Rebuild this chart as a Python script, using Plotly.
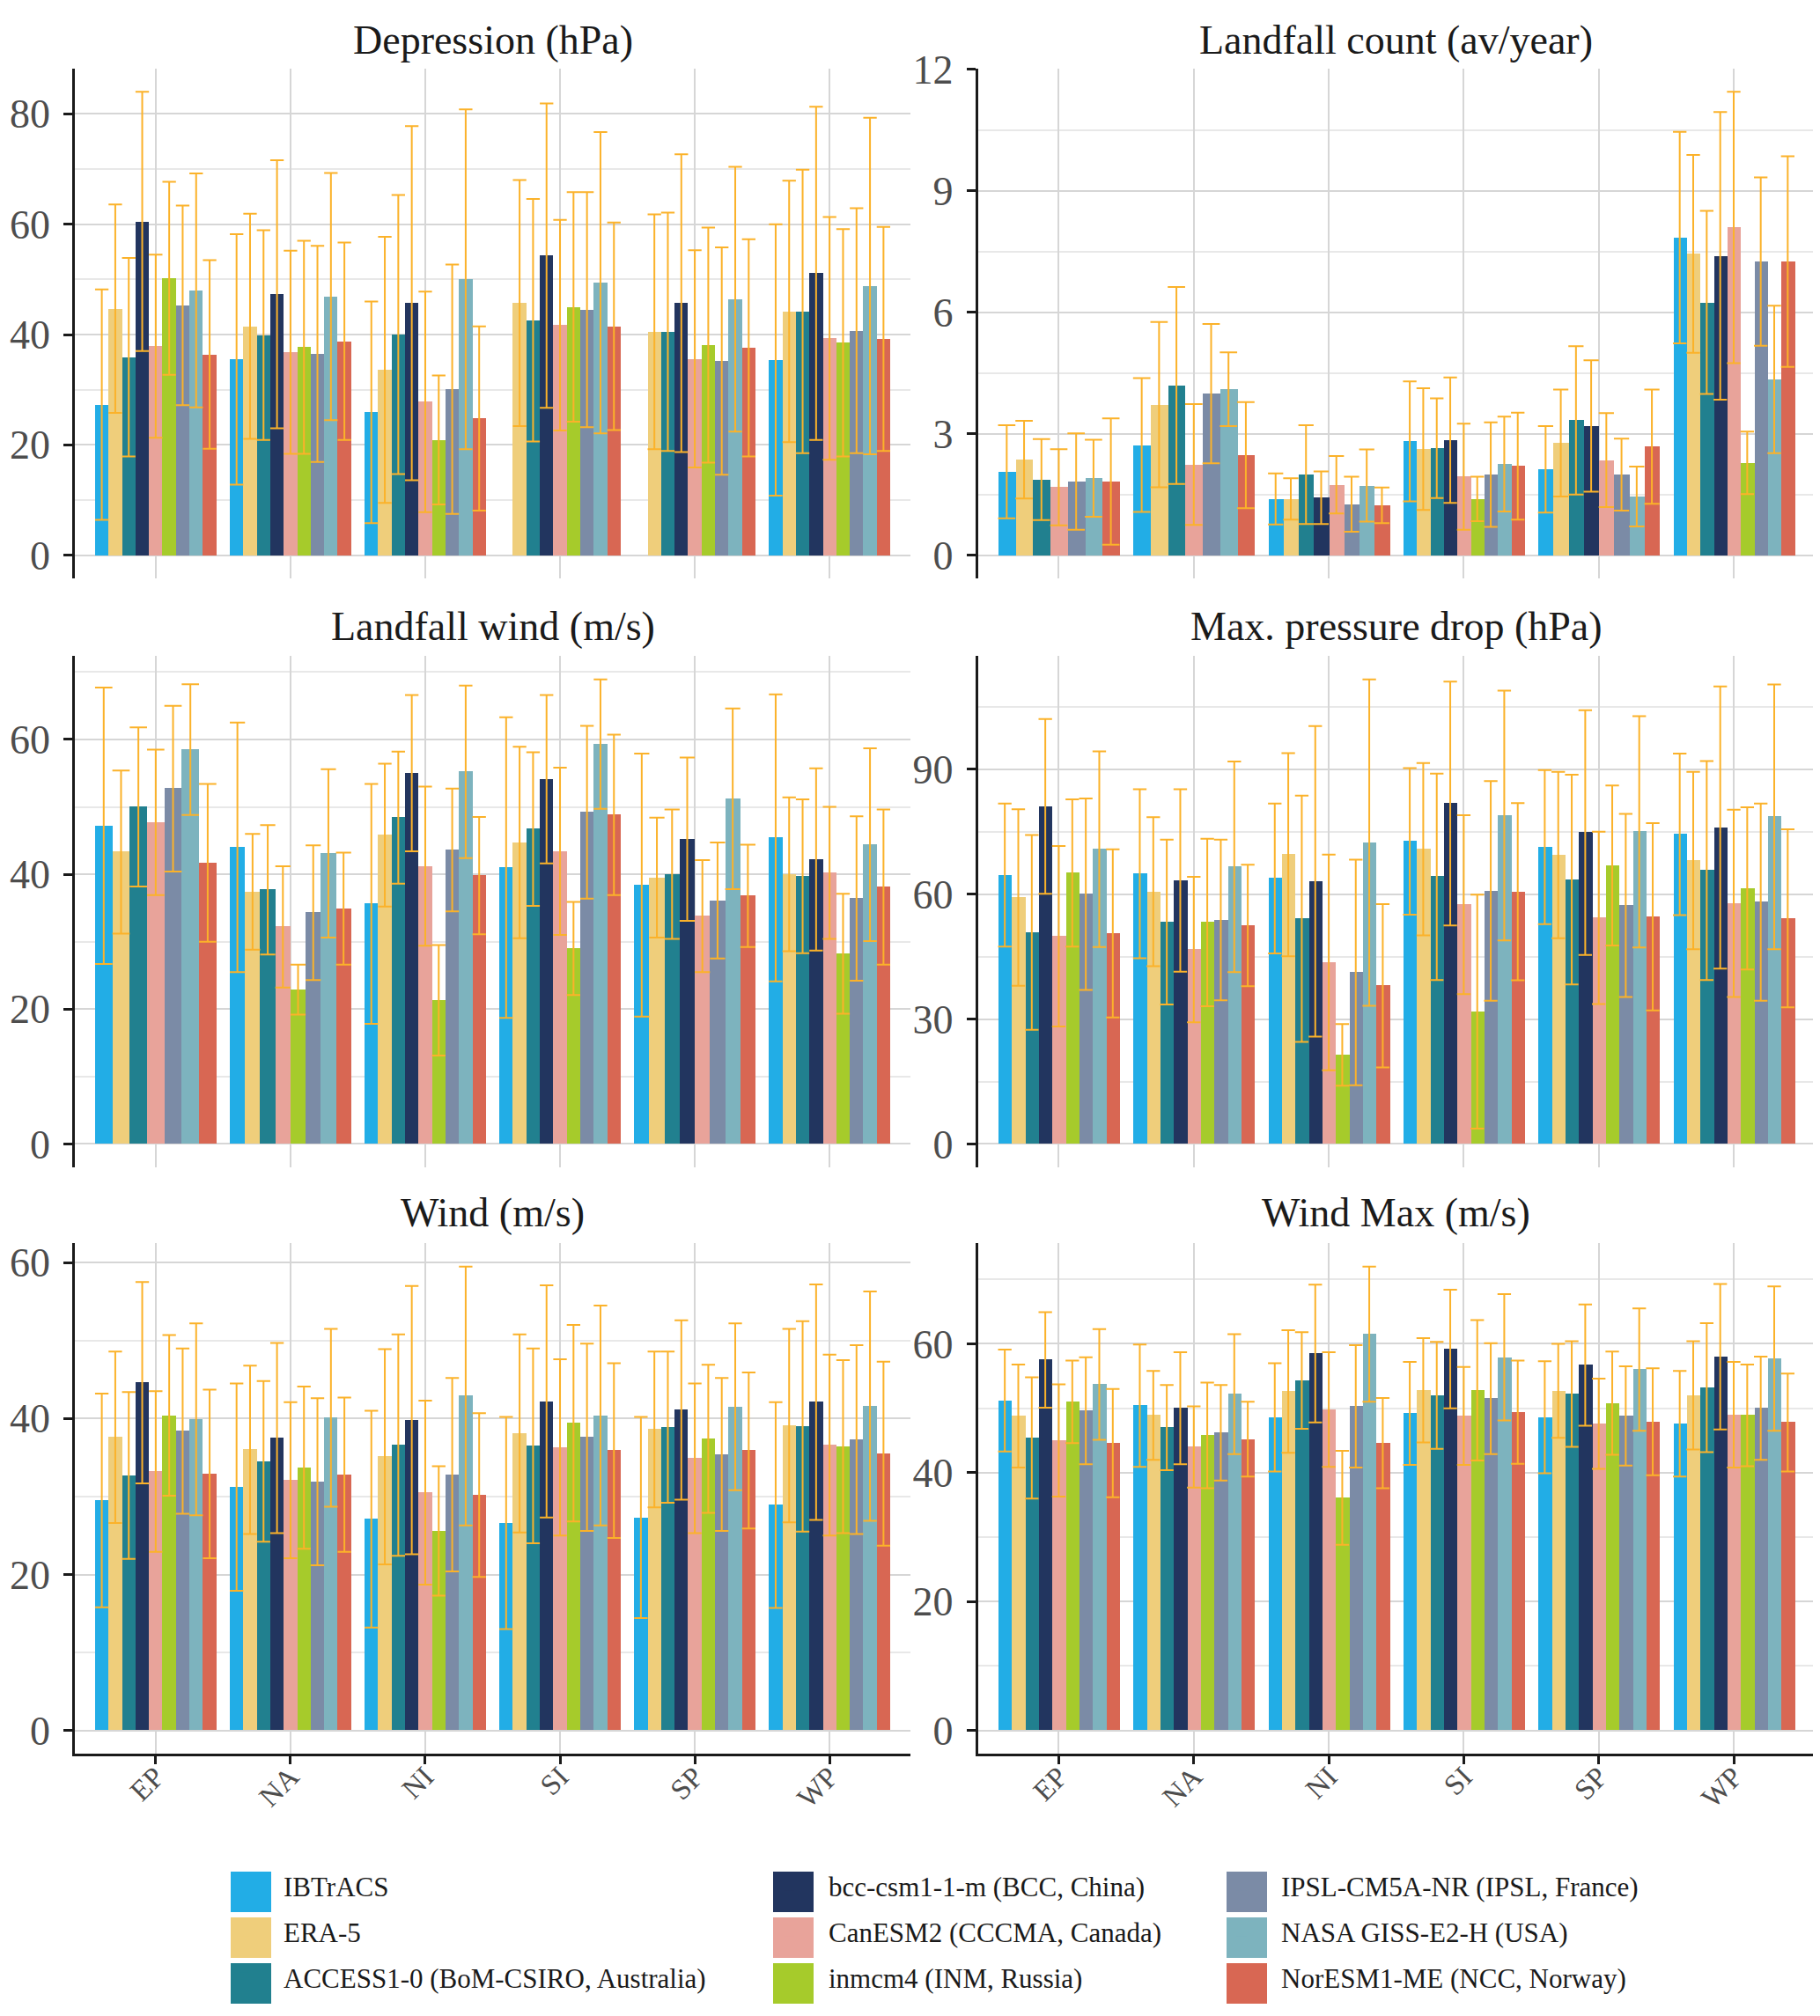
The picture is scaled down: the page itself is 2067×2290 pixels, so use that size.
import math
import plotly.graph_objects as go

# ---------------- data ----------------
regions = ["EP", "NA", "NI", "SI", "SP", "WP"]
series = [
    "IBTrACS",
    "ERA-5",
    "ACCESS1-0 (BoM-CSIRO, Australia)",
    "bcc-csm1-1-m (BCC, China)",
    "CanESM2 (CCCMA, Canada)",
    "inmcm4 (INM, Russia)",
    "IPSL-CM5A-NR (IPSL, France)",
    "NASA GISS-E2-H (USA)",
    "NorESM1-ME (NCC, Norway)",
]
colors = ["#22ADE6", "#EFCE7B", "#21808F", "#22355F", "#E8A39A",
          "#A6CB2B", "#7B8BA6", "#7DB3BE", "#D86753"]
titles = ["Depression (hPa)", "Landfall count (av/year)", "Landfall wind (m/s)",
          "Max. pressure drop (hPa)", "Wind (m/s)", "Wind Max (m/s)"]
major_step = [20, 3, 20, 30, 20, 20]

NA = float("nan")   # row exists but value missing: keeps its dodge slot
# None = row absent: the remaining bars of that region share the group width

# rows = series (order above), columns = regions
dep_mean = [
    [27.3, 35.5, 25.9, NA, NA, 35.4],
    [44.7, 41.5, 33.6, 45.7, 40.5, 44.2],
    [35.9, 39.9, 40.0, 42.6, 40.5, 44.2],
    [60.5, 47.3, 45.7, 54.3, 45.7, 51.1],
    [37.9, 36.8, 27.8, 41.7, 35.6, 39.3],
    [50.2, 37.7, 20.9, 45.0, 38.1, 38.5],
    [45.3, 36.5, 30.1, 44.5, 35.2, 40.7],
    [48.0, 46.9, 50.0, 49.4, 46.4, 48.8],
    [36.4, 38.8, 24.8, 41.5, 37.6, 39.2],
]
dep_sd = [
    [20.9, 22.7, 20.1, NA, NA, 24.6],
    [18.9, 20.4, 24.1, 22.3, 21.3, 23.7],
    [18.0, 19.0, 25.3, 22.0, 21.6, 25.7],
    [23.5, 24.3, 32.1, 27.6, 27.0, 30.2],
    [16.6, 18.4, 20.0, 19.1, 19.7, 22.0],
    [17.5, 19.3, 11.7, 20.8, 21.3, 20.6],
    [18.1, 19.6, 22.6, 21.3, 20.6, 22.2],
    [21.2, 22.4, 30.8, 27.3, 24.0, 30.5],
    [17.1, 17.9, 16.7, 18.8, 19.7, 20.3],
]

lfc_mean = [
    [2.06, 2.72, 1.39, 2.81, 2.12, 7.84],
    [2.36, 3.72, 1.39, 2.62, 2.77, 7.44],
    [1.87, 4.19, 1.99, 2.64, 3.33, 6.24],
    [None, None, 1.42, 2.84, 3.19, 7.39],
    [1.68, 2.24, 1.74, 1.94, 2.35, 8.09],
    [None, None, None, 1.39, None, 2.28],
    [1.82, 3.99, 1.26, 1.99, 1.99, 7.25],
    [1.90, 4.10, 1.72, 2.25, 1.45, 4.34],
    [1.82, 2.47, 1.23, 2.20, 2.68, 7.25],
]
lfc_sd = [
    [1.15, 1.65, 0.63, 1.48, 1.07, 2.61],
    [0.96, 2.04, 0.51, 1.50, 1.32, 2.44],
    [1.00, 2.43, 1.22, 1.23, 1.83, 2.26],
    [None, None, 0.65, 1.55, 1.62, 3.55],
    [0.94, 1.49, 0.71, 1.31, 1.16, 3.35],
    [None, None, None, 0.55, None, 0.77],
    [1.19, 1.72, 0.68, 1.29, 0.89, 2.08],
    [0.95, 0.91, 0.89, 1.17, 0.74, 1.82],
    [1.56, 1.31, 0.44, 1.32, 1.41, 2.60],
]

lfw_mean = [
    [47.2, 44.0, 35.6, 41.0, 38.4, 45.4],
    [43.3, 37.4, 45.8, 44.7, 39.5, 40.0],
    [50.0, 37.7, 48.4, 46.7, 40.0, 39.7],
    [None, None, 55.0, 54.1, 45.2, 42.2],
    [47.7, 32.2, 41.2, 43.4, 33.8, 40.2],
    [None, 22.9, 21.3, 29.0, None, 28.2],
    [52.7, 34.3, 43.6, 49.2, 36.1, 36.4],
    [58.5, 43.1, 55.2, 59.3, 51.2, 44.4],
    [41.7, 34.9, 39.8, 48.8, 36.8, 38.1],
]
lfw_sd = [
    [20.5, 18.5, 17.8, 22.3, 19.5, 21.3],
    [12.1, 8.6, 10.6, 14.2, 8.9, 11.4],
    [11.8, 9.6, 9.8, 11.4, 9.6, 11.4],
    [None, None, 11.6, 12.5, 12.1, 13.5],
    [10.8, 9.0, 11.8, 12.4, 8.3, 9.8],
    [None, 3.7, 8.2, 6.9, None, 8.9],
    [12.3, 10.0, 9.1, 12.8, 8.6, 12.2],
    [9.7, 12.5, 12.8, 9.6, 13.4, 14.3],
    [11.7, 8.3, 8.7, 11.9, 7.6, 11.5],
]

mpd_mean = [
    [64.6, 64.9, 63.8, 72.7, 71.3, 74.4],
    [59.2, 60.6, 69.5, 70.8, 69.4, 68.1],
    [50.8, 53.3, 54.1, 64.2, 63.5, 65.7],
    [81.1, 63.3, 63.1, 81.8, 74.8, 76.0],
    [49.9, 46.7, 43.6, 57.5, 54.3, 57.8],
    [65.1, 53.2, 21.4, 31.8, 66.9, 61.4],
    [60.0, 53.8, 41.2, 60.8, 57.3, 58.1],
    [70.8, 66.6, 72.4, 78.9, 75.0, 78.6],
    [50.6, 52.5, 38.0, 60.6, 54.6, 54.2],
]
mpd_sd = [
    [17.2, 20.3, 18.0, 17.6, 18.5, 19.4],
    [21.2, 17.9, 24.4, 20.7, 20.0, 21.3],
    [23.4, 19.8, 29.6, 24.8, 25.2, 26.3],
    [21.0, 21.9, 37.3, 29.3, 29.4, 33.9],
    [21.7, 17.5, 25.9, 21.5, 20.7, 22.5],
    [17.7, 20.1, 7.4, 28.1, 19.2, 19.5],
    [23.0, 19.3, 27.1, 26.4, 22.0, 23.7],
    [23.5, 25.3, 39.2, 30.0, 27.8, 31.8],
    [20.2, 14.6, 19.6, 21.3, 22.5, 21.4],
]

wind_mean = [
    [29.5, 31.2, 27.1, 26.6, 27.3, 28.9],
    [37.6, 36.0, 35.1, 38.1, 38.6, 39.1],
    [32.7, 34.5, 36.6, 36.5, 38.9, 39.0],
    [44.6, 37.5, 39.8, 42.2, 41.1, 42.1],
    [33.2, 32.1, 30.5, 36.3, 34.9, 36.6],
    [40.4, 33.7, 25.6, 39.4, 37.4, 36.4],
    [38.4, 31.9, 32.8, 37.6, 35.4, 37.3],
    [39.9, 40.1, 42.9, 40.4, 41.5, 41.6],
    [32.9, 32.8, 30.2, 35.9, 35.9, 35.5],
]
wind_sd = [
    [13.7, 13.3, 13.9, 13.6, 12.9, 13.2],
    [11.0, 10.8, 13.8, 12.7, 10.0, 12.4],
    [10.7, 10.3, 14.2, 12.5, 9.7, 13.5],
    [12.9, 12.2, 17.2, 14.9, 11.5, 15.1],
    [10.3, 10.0, 11.8, 11.3, 9.6, 11.6],
    [10.3, 10.4, 8.3, 12.6, 9.5, 11.1],
    [10.6, 10.7, 12.4, 12.0, 9.8, 12.1],
    [12.3, 11.4, 16.6, 14.1, 10.7, 14.7],
    [10.8, 9.9, 10.5, 11.2, 10.0, 11.8],
]

wmax_mean = [
    [51.2, 50.4, 48.6, 49.2, 48.6, 47.6],
    [48.8, 48.9, 52.6, 52.8, 52.7, 52.0],
    [45.4, 47.0, 54.3, 52.0, 52.2, 53.2],
    [57.5, 50.0, 58.5, 59.2, 56.7, 58.0],
    [45.0, 44.0, 49.8, 48.8, 47.6, 49.0],
    [51.0, 45.8, 36.1, 52.8, 50.8, 48.9],
    [49.6, 46.2, 50.3, 51.5, 48.8, 50.0],
    [53.7, 52.2, 61.5, 57.9, 56.0, 57.7],
    [44.6, 45.2, 44.6, 49.4, 47.9, 47.8],
]
wmax_sd = [
    [7.9, 9.5, 8.4, 8.0, 8.7, 8.2],
    [8.0, 6.9, 9.5, 8.1, 7.3, 8.4],
    [9.4, 6.6, 7.5, 8.3, 8.2, 10.0],
    [7.4, 8.7, 10.7, 9.2, 9.4, 11.3],
    [8.7, 6.3, 8.9, 7.6, 7.0, 8.2],
    [6.4, 8.2, 7.3, 10.9, 8.0, 7.9],
    [8.3, 7.4, 9.5, 8.6, 7.7, 8.0],
    [8.6, 9.3, 10.5, 9.8, 9.5, 11.2],
    [8.4, 5.8, 7.0, 8.0, 8.3, 7.6],
]

panels = [(dep_mean, dep_sd), (lfc_mean, lfc_sd), (lfw_mean, lfw_sd),
          (mpd_mean, mpd_sd), (wind_mean, wind_sd), (wmax_mean, wmax_sd)]

# ---------------- style / geometry ----------------
W, H = 2067, 2290
FONT = "Liberation Serif"
col_px = [(77, 1026), (1102.5, 2053)]
row_px = [(70, 649), (737.4, 1317.8), (1404.3, 1984)]
X_RANGE = [-0.6, 5.6]
GROUP_W = 0.9
ERR_COLOR = "#FBB22A"

# legend: 3 columns x 3 rows, filled column by column
LEG_TEXT_X = [322, 941, 1455]     # left edge of the label text (px)
LEG_SWATCH_X = [254, 870, 1385]   # left edge of the colour key (px)
LEG_ROW_Y = [2141, 2193, 2245]    # centre of each legend row (px)
SWATCH = 46
LEG_ITEMW = 80
legend_names = ["legend", "legend2", "legend3"]


def is_nan(v):
    return isinstance(v, float) and math.isnan(v)


def dodge(mean, j):
    present = [i for i in range(len(mean)) if mean[i][j] is not None]
    n = len(present)
    w = GROUP_W / n
    return {i: (j - GROUP_W / 2 + (k + 0.5) * w, w) for k, i in enumerate(present)}


fig = go.Figure()
layout = {}

for p, (mean, sd) in enumerate(panels):
    r, c = divmod(p, 2)
    ax = "" if p == 0 else str(p + 1)
    xref, yref = "x" + ax, "y" + ax
    x0, x1 = col_px[c]
    top, bot = row_px[r]
    px_per_unit = (x1 - x0) / (X_RANGE[1] - X_RANGE[0])

    pos = [dodge(mean, j) for j in range(len(regions))]

    err_groups = []
    for i, name in enumerate(series):
        xs, ys, ws = [], [], []
        byw = {}
        for j in range(len(regions)):
            v = mean[i][j]
            if v is None or is_nan(v):
                continue
            cx, w = pos[j][i]
            xs.append(cx); ys.append(v); ws.append(w)
            byw.setdefault(round(w, 6), []).append((cx, v, sd[i][j]))
        fig.add_trace(go.Bar(
            x=xs, y=ys, width=ws, name=name,
            marker=dict(color=colors[i], line=dict(width=0)),
            xaxis=xref, yaxis=yref,
            legendgroup=name, legend=legend_names[i // 3],
            showlegend=(p == 0),
        ))
        for w, pts in byw.items():
            err_groups.append((w, pts, name))

    # error bars drawn after all bars so they sit on top
    for w, pts, name in err_groups:
        fig.add_trace(go.Scatter(
            x=[q[0] for q in pts], y=[q[1] for q in pts],
            mode="markers", marker=dict(size=1, opacity=0),
            error_y=dict(type="data", array=[q[2] for q in pts], visible=True,
                         color=ERR_COLOR, thickness=2, width=w * px_per_unit / 2),
            xaxis=xref, yaxis=yref, showlegend=False, hoverinfo="skip",
            legendgroup=name,
        ))

    hi = max(m + s for rm, rs in zip(mean, sd) for m, s in zip(rm, rs)
             if m is not None and not is_nan(m))
    lo = 0.0
    pad = 0.05 * (hi - lo)
    step = major_step[p]

    bottom_row = (r == 2)
    layout["xaxis" + ax] = dict(
        domain=[x0 / W, x1 / W], anchor=yref, range=X_RANGE,
        tickvals=list(range(len(regions))), ticktext=regions,
        showticklabels=bottom_row, ticks="outside" if bottom_row else "",
        ticklen=9, tickwidth=2.5, tickcolor="#1a1a1a",
        tickangle=-45, tickfont=dict(family=FONT, size=33, color="#4d4d4d"),
        ticklabelstandoff=-18,
        showline=bottom_row, linecolor="#1a1a1a", linewidth=2.5,
        showgrid=True, gridcolor="#D6D6D6", gridwidth=2,
        zeroline=False, automargin=False, fixedrange=True,
    )
    layout["yaxis" + ax] = dict(
        domain=[1 - bot / H, 1 - top / H], anchor=xref,
        range=[lo - pad, hi + pad], tick0=0, dtick=step,
        ticks="outside", ticklen=10, tickwidth=2.5, tickcolor="#1a1a1a",
        tickfont=dict(family=FONT, size=46, color="#4d4d4d"),
        ticklabelstandoff=6,
        showline=True, linecolor="#1a1a1a", linewidth=2.5,
        showgrid=True, gridcolor="#D6D6D6", gridwidth=2,
        minor=dict(dtick=step / 2, tick0=0, showgrid=True,
                   gridcolor="#E8E8E8", gridwidth=1.5),
        zeroline=False, automargin=False, fixedrange=True,
    )

annotations = []
title_y = [38, 704, 1369]
for p, t in enumerate(titles):
    r, c = divmod(p, 2)
    x0, x1 = col_px[c]
    annotations.append(dict(
        text=t, x=(x0 + x1) / 2 / W, y=1 - title_y[r] / H,
        xref="paper", yref="paper", xanchor="center", yanchor="middle",
        showarrow=False, font=dict(family=FONT, size=46, color="#1a1a1a"),
    ))

# large colour keys behind the legend symbols (the legend's own small key sits inside)
shapes = []
for i in range(len(series)):
    col, row = divmod(i, 3)
    sx = LEG_SWATCH_X[col]
    cy = LEG_ROW_Y[row]
    shapes.append(dict(
        type="rect", xref="paper", yref="paper", layer="above",
        x0=sx / W, x1=(sx + SWATCH) / W,
        y0=1 - (cy + SWATCH / 2) / H, y1=1 - (cy - SWATCH / 2) / H,
        fillcolor=colors[i], line=dict(width=0),
    ))

leg_common = dict(orientation="v", xanchor="left", yanchor="top",
                  font=dict(family=FONT, size=31, color="#1a1a1a"),
                  bgcolor="rgba(0,0,0,0)", tracegroupgap=9, itemwidth=LEG_ITEMW,
                  itemclick=False, itemdoubleclick=False)
leg_y = 1 - 2107 / H
for k, ln in enumerate(legend_names):
    layout[ln] = dict(x=(LEG_TEXT_X[k] - LEG_ITEMW - 18) / W, y=leg_y, **leg_common)

fig.update_layout(
    width=W, height=H,
    margin=dict(l=0, r=0, t=0, b=0),
    paper_bgcolor="white", plot_bgcolor="white",
    barmode="overlay", bargap=0,
    annotations=annotations, shapes=shapes,
    font=dict(family=FONT),
    **layout,
)

fig.write_html("out.html")
